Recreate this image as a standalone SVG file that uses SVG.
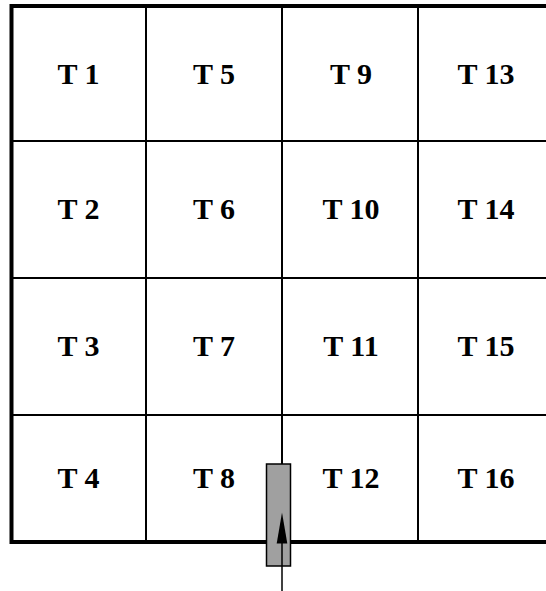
<svg xmlns="http://www.w3.org/2000/svg" width="546" height="591" viewBox="0 0 546 591">
<style>
.t{font-family:"Liberation Serif","Times New Roman",serif;font-weight:bold;font-size:30px;text-anchor:middle;fill:#000}
.g{stroke:#000;stroke-width:2;fill:none}
.b{stroke:#000;stroke-width:4;fill:none}
</style>
<rect width="546" height="591" fill="#fff"/>
<g id="grid">
<line class="g" x1="146" y1="6" x2="146" y2="542"/>
<line class="g" x1="282" y1="6" x2="282" y2="542"/>
<line class="g" x1="418" y1="6" x2="418" y2="542"/>
<line class="g" x1="11.5" y1="141" x2="546" y2="141"/>
<line class="g" x1="11.5" y1="278" x2="546" y2="278"/>
<line class="g" x1="11.5" y1="415" x2="546" y2="415"/>
<path class="b" d="M546,6 H11.5 V542 H546"/>
</g>
<g id="T1"><text class="t" x="78.5" y="83.5">T 1</text></g>
<g id="T2"><text class="t" x="78.5" y="219">T 2</text></g>
<g id="T3"><text class="t" x="78.5" y="356">T 3</text></g>
<g id="T4"><text class="t" x="78.5" y="488">T 4</text></g>
<g id="T5"><text class="t" x="214" y="83.5">T 5</text></g>
<g id="T6"><text class="t" x="214" y="219">T 6</text></g>
<g id="T7"><text class="t" x="214" y="356">T 7</text></g>
<g id="T8"><text class="t" x="214" y="488">T 8</text></g>
<g id="T9"><text class="t" x="351" y="83.5">T 9</text></g>
<g id="T10"><text class="t" x="351" y="219">T 10</text></g>
<g id="T11"><text class="t" x="351" y="356">T 11</text></g>
<g id="T12"><text class="t" x="351" y="488">T 12</text></g>
<g id="T13"><text class="t" x="486" y="83.5">T 13</text></g>
<g id="T14"><text class="t" x="486" y="219">T 14</text></g>
<g id="T15"><text class="t" x="486" y="356">T 15</text></g>
<g id="T16"><text class="t" x="486" y="488">T 16</text></g>
<g id="robot"><rect x="266.5" y="464" width="24" height="102" fill="#a0a0a0" stroke="#000" stroke-width="1.5"/></g>
<g id="connectors">
<line x1="282" y1="591" x2="282" y2="543" stroke="#000" stroke-width="1.5"/>
<path d="M276.7,543.5 L282,512.5 L287.3,543.5 Z" fill="#000"/>
</g>
</svg>
